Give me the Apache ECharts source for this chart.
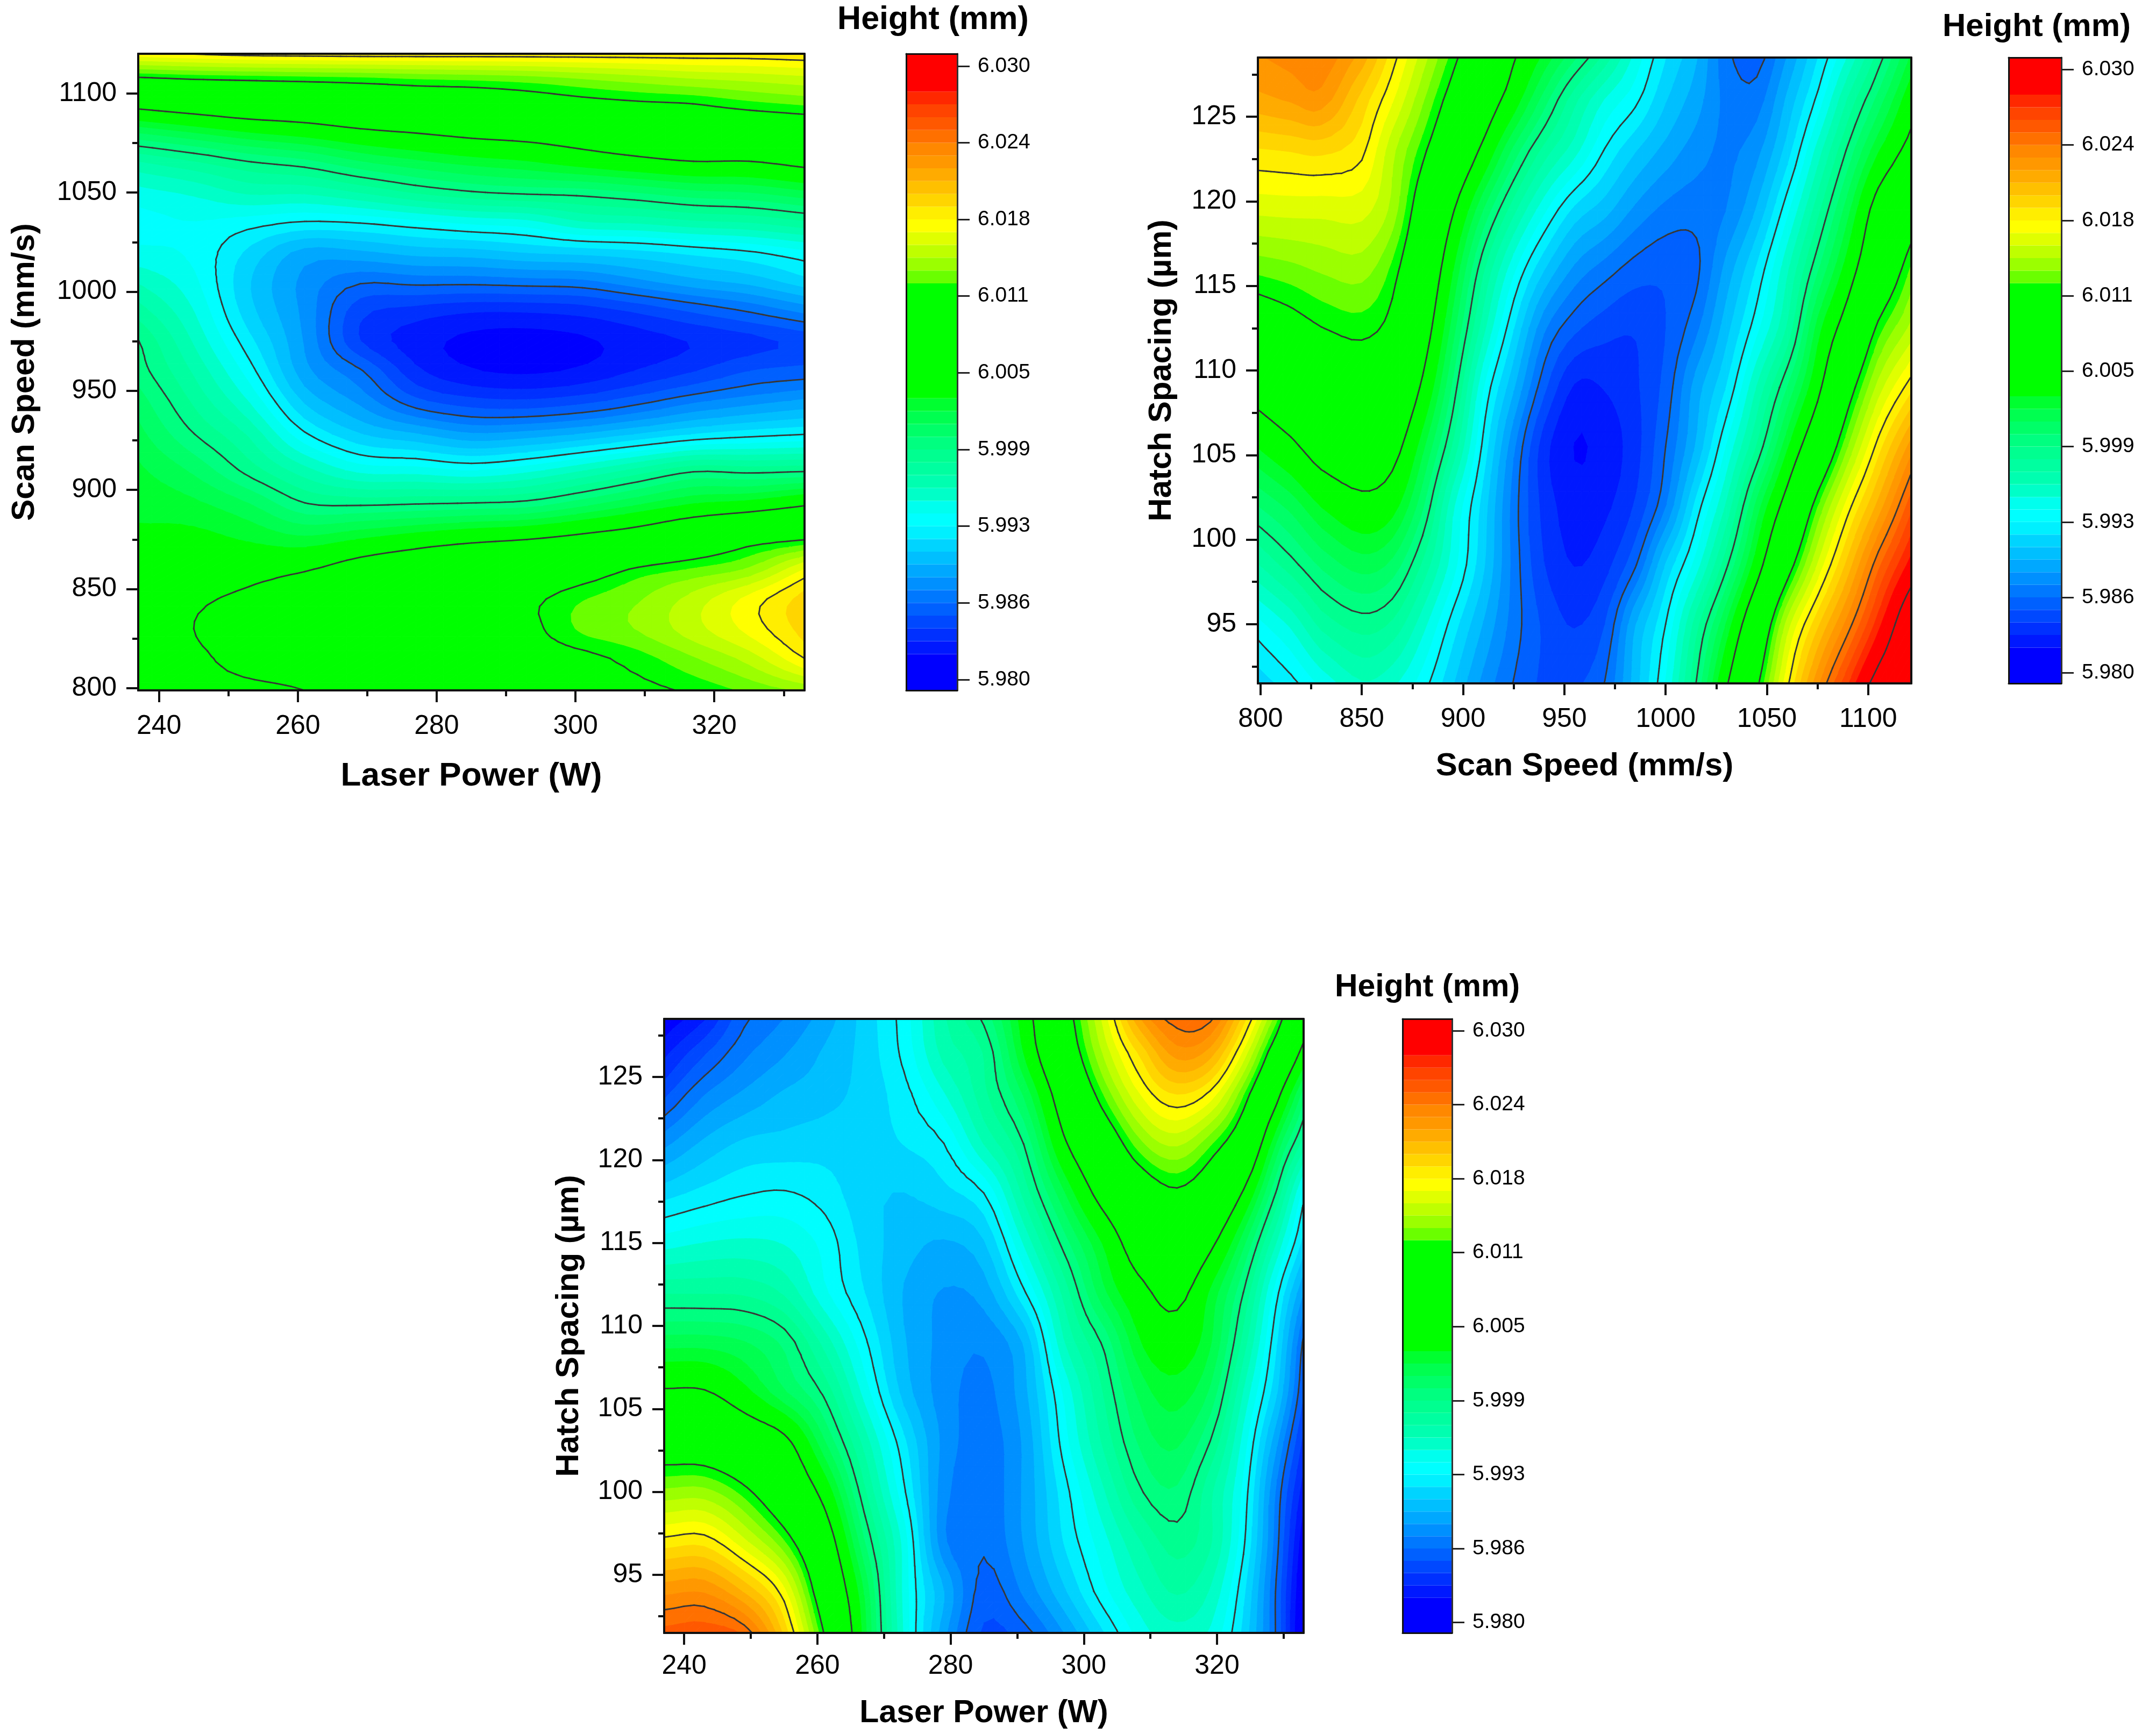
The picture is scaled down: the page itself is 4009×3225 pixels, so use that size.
<!DOCTYPE html>
<html>
<head>
<meta charset="utf-8">
<title>Height contour maps</title>
<style>
  html, body { margin: 0; padding: 0; background: #fff; }
  #chart { width: 4009px; height: 3225px; }
</style>
<script src="https://cdn.jsdelivr.net/npm/echarts@6/dist/echarts.min.js"></script>
</head>
<body>
<div id="chart"></div>
<script>
'use strict'

// values, one list per laser power
const powerLevelsA = [237, 245, 253, 261, 269, 277, 285, 293, 301, 309, 317, 325, 333]
const speedLevelsA = [798.9, 815, 830, 845, 860, 875, 892, 910, 928, 945, 960, 975, 990, 1005, 1020, 1035, 1050, 1065, 1080, 1095, 1108, 1120]
const heightByPowerA = [
  [6.0035, 6.0036, 6.0037, 6.0036, 6.0034, 6.0031, 6.0027, 6.0021, 6.0012, 6.0003, 5.9993, 5.9988, 5.9972, 5.9955, 5.9938, 5.9932, 5.9942, 5.9965, 6.0008, 6.0060, 6.0112, 6.0172],
  [6.0040, 6.0044, 6.0050, 6.0046, 6.0040, 6.0033, 6.0022, 6.0006, 5.9988, 5.9975, 5.9965, 5.9955, 5.9946, 5.9938, 5.9933, 5.9935, 5.9948, 5.9975, 6.0018, 6.0068, 6.0116, 6.0176],
  [6.0042, 6.0062, 6.0072, 6.0056, 6.0042, 6.0028, 6.0010, 5.9983, 5.9965, 5.9945, 5.9930, 5.9918, 5.9908, 5.9905, 5.9912, 5.9930, 5.9958, 5.9986, 6.0028, 6.0075, 6.0118, 6.0180],
  [6.0050, 6.0075, 6.0085, 6.0072, 6.0048, 6.0022, 5.9990, 5.9960, 5.9927, 5.9902, 5.9887, 5.9882, 5.9880, 5.9880, 5.9890, 5.9924, 5.9958, 5.9993, 6.0035, 6.0078, 6.0120, 6.0181],
  [6.0075, 6.0090, 6.0098, 6.0088, 6.0062, 6.0030, 5.9988, 5.9942, 5.9905, 5.9880, 5.9864, 5.9842, 5.9845, 5.9864, 5.9892, 5.9926, 5.9967, 6.0006, 6.0044, 6.0085, 6.0122, 6.0182],
  [6.0085, 6.0095, 6.0102, 6.0095, 6.0072, 6.0038, 5.9990, 5.9940, 5.9895, 5.9855, 5.9834, 5.9826, 5.9837, 5.9866, 5.9898, 5.9932, 5.9978, 6.0015, 6.0050, 6.0090, 6.0125, 6.0182],
  [6.0092, 6.0098, 6.0105, 6.0102, 6.0082, 6.0045, 5.9992, 5.9935, 5.9885, 5.9845, 5.9822, 5.9818, 5.9832, 5.9866, 5.9900, 5.9938, 5.9986, 6.0022, 6.0056, 6.0092, 6.0127, 6.0182],
  [6.0098, 6.0102, 6.0108, 6.0108, 6.0088, 6.0050, 5.9995, 5.9942, 5.9888, 5.9843, 5.9819, 5.9816, 5.9832, 5.9868, 5.9905, 5.9942, 5.9990, 6.0027, 6.0060, 6.0098, 6.0130, 6.0182],
  [6.0105, 6.0108, 6.0125, 6.0122, 6.0098, 6.0058, 6.0007, 5.9955, 5.9895, 5.9848, 5.9823, 5.9819, 5.9835, 5.9870, 5.9908, 5.9955, 5.9992, 6.0035, 6.0067, 6.0105, 6.0135, 6.0182],
  [6.0108, 6.0118, 6.0134, 6.0132, 6.0115, 6.0068, 6.0020, 5.9970, 5.9905, 5.9858, 5.9832, 5.9826, 5.9843, 5.9880, 5.9912, 5.9958, 5.9998, 6.0042, 6.0076, 6.0110, 6.0140, 6.0182],
  [6.0115, 6.0132, 6.0150, 6.0148, 6.0124, 6.0085, 6.0032, 5.9985, 5.9915, 5.9870, 5.9841, 5.9832, 5.9853, 5.9890, 5.9918, 5.9964, 6.0005, 6.0048, 6.0085, 6.0113, 6.0145, 6.0182],
  [6.0125, 6.0148, 6.0168, 6.0168, 6.0135, 6.0103, 6.0038, 5.9983, 5.9921, 5.9878, 5.9852, 5.9838, 5.9863, 5.9897, 5.9924, 5.9967, 6.0008, 6.0048, 6.0085, 6.0120, 6.0148, 6.0182],
  [6.0135, 6.0175, 6.0190, 6.0190, 6.0165, 6.0112, 6.0050, 5.9985, 5.9925, 5.9885, 5.9856, 5.9845, 5.9875, 5.9910, 5.9933, 5.9975, 6.0016, 6.0056, 6.0090, 6.0125, 6.0152, 6.0184]
]

// one list per hatch spacing, bottom row first
const speedLevelsB = [798.7, 815, 830, 850, 865, 880, 895, 910, 925, 940, 955, 970, 985, 1000, 1015, 1030, 1045, 1060, 1075, 1090, 1105, 1121.3]
const hatchLevelsB = [91.5, 95, 98.5, 102, 105.5, 109, 112.5, 116, 119.5, 123, 126, 128.5]
const heightByHatchB = [
  [5.9908, 5.9921, 5.9938, 5.9955, 5.9948, 5.9930, 5.9905, 5.9880, 5.9862, 5.9850, 5.9850, 5.9863, 5.9899, 5.9936, 5.99875, 6.0047, 6.0108, 6.0172, 6.0224, 6.0268, 6.0311, 6.0338],
  [5.9932, 5.9948, 5.9970, 5.9982, 5.9975, 5.9950, 5.9920, 5.9893, 5.9868, 5.9850, 5.9841, 5.9852, 5.9893, 5.9925, 5.9972, 6.0020, 6.0080, 6.0148, 6.0193, 6.0232, 6.0275, 6.0325],
  [5.9966, 5.9983, 6.0000, 6.0013, 6.0005, 5.9975, 5.9940, 5.9906, 5.9869, 5.9842, 5.9831, 5.9838, 5.9861, 5.9905, 5.9940, 5.9985, 6.0038, 6.0100, 6.0155, 6.0200, 6.0245, 6.0285],
  [5.9998, 6.0012, 6.0030, 6.0043, 6.0035, 6.0000, 5.9948, 5.9910, 5.9868, 5.9838, 5.9826, 5.9829, 5.9843, 5.9872, 5.9918, 5.9958, 6.0012, 6.0062, 6.0122, 6.0170, 6.0210, 6.0255],
  [6.0030, 6.0045, 6.0062, 6.0070, 6.0060, 6.0022, 5.9975, 5.9922, 5.9875, 5.9836, 5.98205, 5.9825, 5.98375, 5.98625, 5.9895, 5.9936, 5.9978, 6.0027, 6.0077, 6.0133, 6.0180, 6.0222],
  [6.0062, 6.0075, 6.0085, 6.0094, 6.0083, 6.0046, 5.9995, 5.9936, 5.9895, 5.9855, 5.9830, 5.9832, 5.9840, 5.9856, 5.9888, 5.9915, 5.9957, 5.9998, 6.0043, 6.0100, 6.0148, 6.0182],
  [6.0094, 6.0103, 6.0112, 6.0117, 6.0105, 6.0065, 6.0013, 5.9960, 5.9915, 5.9875, 5.9855, 5.9846, 5.9843, 5.9852, 5.9870, 5.9900, 5.9932, 5.9968, 6.0023, 6.0065, 6.0117, 6.0147],
  [6.0126, 6.0130, 6.0135, 6.0138, 6.0120, 6.0080, 6.0030, 5.9979, 5.9938, 5.9905, 5.9881, 5.9868, 5.9858, 5.9855, 5.9860, 5.9887, 5.9916, 5.9954, 5.9996, 6.0037, 6.0082, 6.0125],
  [6.0157, 6.0158, 6.0158, 6.0158, 6.0140, 6.0096, 6.0052, 6.0008, 5.9970, 5.9938, 5.9912, 5.9898, 5.9881, 5.9870, 5.9867, 5.9873, 5.9895, 5.9932, 5.9973, 6.0015, 6.0062, 6.0095],
  [6.0184, 6.0186, 6.0188, 6.0178, 6.0147, 6.0117, 6.0081, 6.0044, 6.0005, 5.9973, 5.9950, 5.9924, 5.9905, 5.9890, 5.9878, 5.9871, 5.9880, 5.9909, 5.9950, 5.9990, 6.0028, 6.0060],
  [6.0213, 6.0218, 6.0222, 6.0192, 6.0166, 6.0135, 6.0102, 6.0068, 6.0037, 6.0003, 5.9970, 5.9945, 5.9928, 5.9905, 5.9888, 5.9870, 5.9868, 5.9896, 5.9928, 5.9968, 6.0002, 6.0040],
  [6.0226, 6.0231, 6.0234, 6.0212, 6.0180, 6.0149, 6.0118, 6.0085, 6.0052, 6.0026, 6.0000, 5.9973, 5.9942, 5.9915, 5.9895, 5.9866, 5.9858, 5.9884, 5.9914, 5.9947, 5.9982, 6.0021]
]

const powerLevelsC = [237, 243, 249, 255, 261, 267, 273, 279, 285, 291, 297, 303, 309, 314, 319, 324, 329, 333]
const hatchLevelsC = [91.5, 94, 97, 100, 103, 106, 109, 112, 115, 118, 121, 124, 126.5, 128.5]
const heightByHatchC = [
  [6.0252, 6.0255, 6.0245, 6.0193, 6.0112, 6.0024, 5.9944, 5.9887, 5.9850, 5.9858, 5.9883, 5.9914, 5.9942, 5.9952, 5.9944, 5.9911, 5.9860, 5.9800],
  [6.0224, 6.0226, 6.0205, 6.0168, 6.0091, 6.0018, 5.9942, 5.9894, 5.9858, 5.9875, 5.9902, 5.9932, 5.9955, 5.9968, 5.9955, 5.9917, 5.9860, 5.9805],
  [6.0179, 6.0181, 6.0157, 6.0124, 6.0069, 5.9999, 5.9941, 5.9875, 5.9864, 5.9884, 5.9915, 5.9942, 5.9968, 5.9982, 5.9968, 5.9927, 5.9866, 5.9812],
  [6.0136, 6.0137, 6.0118, 6.0085, 6.0041, 5.9980, 5.9927, 5.9877, 5.9866, 5.9885, 5.9920, 5.9955, 5.9988, 5.9996, 5.9969, 5.9932, 5.9870, 5.9825],
  [6.0093, 6.0091, 6.0076, 6.0057, 6.0010, 5.9963, 5.9917, 5.9880, 5.9868, 5.9885, 5.9930, 5.9969, 6.0002, 6.0010, 5.9987, 5.9941, 5.9885, 5.9838],
  [6.0053, 6.0052, 6.0034, 6.0010, 5.9985, 5.9942, 5.9900, 5.9878, 5.9870, 5.9890, 5.9937, 5.9978, 6.0014, 6.0024, 6.0006, 5.9955, 5.9905, 5.9852],
  [6.0014, 6.0014, 6.0009, 5.9995, 5.9963, 5.9928, 5.9895, 5.9880, 5.9875, 5.9895, 5.9955, 5.9990, 6.0031, 6.0039, 6.0020, 5.9972, 5.9915, 5.9860],
  [5.9976, 5.9976, 5.9975, 5.9965, 5.9938, 5.9915, 5.9893, 5.98825, 5.9888, 5.9923, 5.9970, 6.0016, 6.0045, 6.0057, 6.0027, 5.9987, 5.9928, 5.9883],
  [5.9941, 5.9946, 5.9948, 5.9945, 5.9932, 5.9911, 5.9899, 5.98925, 5.9903, 5.9947, 5.9992, 6.0031, 6.0070, 6.0083, 6.0056, 6.0011, 5.9955, 5.9910],
  [5.9910, 5.9918, 5.9924, 5.9926, 5.9920, 5.9908, 5.9904, 5.9911, 5.9925, 5.9970, 6.0017, 6.0062, 6.0095, 6.0109, 6.0090, 6.0047, 5.9985, 5.9930],
  [5.9880, 5.9896, 5.9906, 5.9908, 5.9910, 5.9910, 5.9915, 5.9925, 5.9957, 5.9988, 6.0046, 6.0090, 6.0133, 6.0146, 6.0125, 6.0088, 6.0017, 5.9972],
  [5.9849, 5.9872, 5.9885, 5.9895, 5.9900, 5.9908, 5.9921, 5.9945, 5.9974, 6.0010, 6.0068, 6.0124, 6.0168, 6.0186, 6.0172, 6.0124, 6.0058, 6.0003],
  [5.9828, 5.9850, 5.9870, 5.9882, 5.9895, 5.9908, 5.9928, 5.9960, 5.9978, 6.0030, 6.0089, 6.0146, 6.0192, 6.0222, 6.0212, 6.0162, 6.0095, 6.0042],
  [5.9812, 5.9830, 5.9860, 5.9873, 5.9888, 5.9908, 5.9930, 5.9965, 5.9990, 6.0037, 6.0098, 6.0158, 6.0220, 6.0243, 6.0240, 6.0190, 6.0125, 6.0065]
]

// colour scale of the bars
const bandEdges = [5.97, 5.98208, 5.98313, 5.98417, 5.98521, 5.98625, 5.98729, 5.98833, 5.98938, 5.99042, 5.99146, 5.9925, 5.99354, 5.99458, 5.99563, 5.99667, 5.99771, 5.99875, 5.99979, 6.00083, 6.00188, 6.00292, 6.01229, 6.01333, 6.01438, 6.01542, 6.01646, 6.0175, 6.01854, 6.01958, 6.02063, 6.02167, 6.02271, 6.02375, 6.02479, 6.02583, 6.02688, 6.02792, 6.04]
const bandColors = ['#0000ff', '#0018ff', '#0030ff', '#0048ff', '#0060ff', '#0078ff', '#0090ff', '#00a8ff', '#00bfff', '#00d4ff', '#00f0ff', '#00ffff', '#00ffee', '#00ffc8', '#00ffb0', '#00ffa0', '#00ff90', '#00ff80', '#00ff68', '#00ff50', '#00ff30', '#00ff00', '#6aff00', '#9bff00', '#bfff00', '#e0ff00', '#ffff00', '#ffee00', '#ffd500', '#ffc000', '#ffab00', '#ff9800', '#ff8800', '#ff7000', '#ff5800', '#ff4400', '#ff2800', '#ff0000']
const contourLevels = [5.98625, 5.9925, 5.99875, 6.005, 6.01125, 6.0175, 6.02375, 6.03]
const colorTicks = [5.98, 5.98625, 5.9925, 5.99875, 6.005, 6.01125, 6.0175, 6.02375, 6.03]
const colorTickLabels = ['5.980', '5.986', '5.993', '5.999', '6.005', '6.011', '6.018', '6.024', '6.030']
const colorBarMin = 5.97912
const colorBarMax = 6.031

const powerTicks = [240, 260, 280, 300, 320]
const powerMinorTicks = [250, 270, 290, 310, 330]
const speedTicks = [800, 850, 900, 950, 1000, 1050, 1100]
const speedMinorTicks = [825, 875, 925, 975, 1025, 1075]
const hatchTicks = [95, 100, 105, 110, 115, 120, 125]
const hatchMinorTicks = [92.5, 97.5, 102.5, 107.5, 112.5, 117.5, 122.5, 127.5]

const FONT = '"Liberation Sans", Arial, sans-serif'
const LINE_COLOR = '#111'
const CONTOUR_COLOR = '#383838'
const CELL_STEPS = 4

function transpose (columns) {
  return columns[0].map((_, j) => columns.map(col => col[j]))
}

function buildCells (xs, ys, rows) {
  const cells = []
  for (let j = 0; j < ys.length - 1; j++) {
    for (let i = 0; i < xs.length - 1; i++) {
      cells.push([xs[i], xs[i + 1], ys[j], ys[j + 1], rows[j][i], rows[j][i + 1], rows[j + 1][i], rows[j + 1][i + 1]])
    }
  }
  return cells
}

function catmullRom (a, b, c, d, t) {
  return b + 0.5 * t * (c - a + t * (2 * a - 5 * b + 4 * c - d + t * (3 * (b - c) + d - a)))
}

// smooth surface through the read values, only used when a cell is drawn
function makeSurface (xs, ys, rows) {
  const rowAt = (j, i) => {
    if (j < 0) return 2 * rows[0][i] - rows[1][i]
    if (j >= ys.length) return 2 * rows[ys.length - 1][i] - rows[ys.length - 2][i]
    return rows[j][i]
  }
  const column = (i, j, v) => catmullRom(rowAt(j - 1, i), rowAt(j, i), rowAt(j + 1, i), rowAt(j + 2, i), v)
  const heightAt = (i, j, u, v) => {
    const b = column(i, j, v)
    const c = column(i + 1, j, v)
    const a = i > 0 ? column(i - 1, j, v) : 2 * b - c
    const d = i + 2 < xs.length ? column(i + 2, j, v) : 2 * c - b
    return catmullRom(a, b, c, d, u)
  }
  const cache = {}
  return function triangles (cellIndex) {
    if (cache[cellIndex]) return cache[cellIndex]
    const i = cellIndex % (xs.length - 1)
    const j = Math.floor(cellIndex / (xs.length - 1))
    const grid = []
    for (let b = 0; b <= CELL_STEPS; b++) {
      const row = []
      const v = b / CELL_STEPS
      for (let a = 0; a <= CELL_STEPS; a++) {
        const u = a / CELL_STEPS
        row.push([xs[i] + (xs[i + 1] - xs[i]) * u, ys[j] + (ys[j + 1] - ys[j]) * v, heightAt(i, j, u, v)])
      }
      grid.push(row)
    }
    const list = []
    for (let b = 0; b < CELL_STEPS; b++) {
      for (let a = 0; a < CELL_STEPS; a++) {
        list.push([grid[b][a], grid[b][a + 1], grid[b + 1][a + 1]], [grid[b][a], grid[b + 1][a + 1], grid[b + 1][a]])
      }
    }
    cache[cellIndex] = list
    return list
  }
}

function crossing (p, q, level) {
  const t = (level - p[2]) / (q[2] - p[2])
  return [p[0] + (q[0] - p[0]) * t, p[1] + (q[1] - p[1]) * t, level]
}

// keeps the part of a polygon on one side of a height level
function cutPolygon (points, level, keepAbove) {
  const out = []
  points.forEach((p, i) => {
    const q = points[(i + 1) % points.length]
    const pIn = keepAbove ? p[2] >= level : p[2] <= level
    const qIn = keepAbove ? q[2] >= level : q[2] <= level
    if (pIn) out.push(p)
    if (pIn !== qIn) out.push(crossing(p, q, level))
  })
  return out
}

function bandRenderer (triangles) {
  return function (params, api) {
    const children = []
    triangles(params.dataIndex).forEach(tri => {
      const low = Math.min(tri[0][2], tri[1][2], tri[2][2])
      const high = Math.max(tri[0][2], tri[1][2], tri[2][2])
      bandColors.forEach((color, k) => {
        if (bandEdges[k + 1] < low || bandEdges[k] > high) return
        let poly = cutPolygon(tri, bandEdges[k], true)
        if (poly.length > 2) poly = cutPolygon(poly, bandEdges[k + 1], false)
        if (poly.length < 3) return
        children.push({
          type: 'polygon',
          shape: { points: poly.map(p => api.coord([p[0], p[1]])) },
          style: { fill: color, stroke: color, lineWidth: 1 }
        })
      })
    })
    return { type: 'group', children }
  }
}

function contourRenderer (triangles) {
  return function (params, api) {
    const children = []
    triangles(params.dataIndex).forEach(tri => {
      contourLevels.forEach(level => {
        const hits = []
        tri.forEach((p, i) => {
          const q = tri[(i + 1) % 3]
          if ((p[2] >= level) !== (q[2] >= level)) hits.push(crossing(p, q, level))
        })
        if (hits.length !== 2) return
        const s = api.coord([hits[0][0], hits[0][1]])
        const e = api.coord([hits[1][0], hits[1][1]])
        children.push({
          type: 'line',
          shape: { x1: s[0], y1: s[1], x2: e[0], y2: e[1] },
          style: { stroke: CONTOUR_COLOR, lineWidth: 2.8, lineCap: 'round' }
        })
      })
    })
    return { type: 'group', children }
  }
}

function renderColorBand (params, api) {
  const low = api.coord([0, api.value(0)])
  const high = api.coord([1, api.value(1)])
  return {
    type: 'rect',
    shape: { x: low[0], y: high[1], width: high[0] - low[0], height: low[1] - high[1] },
    style: { fill: bandColors[params.dataIndex] }
  }
}

const option = {
  animation: false,
  backgroundColor: '#fff',
  textStyle: { fontFamily: FONT },
  title: [],
  grid: [],
  xAxis: [],
  yAxis: [],
  series: []
}

function lineOnlyAxis (gridIndex, position, min, max, lineWidth) {
  return {
    type: 'value',
    gridIndex,
    position,
    min,
    max,
    z: 5,
    axisLine: { show: true, onZero: false, lineStyle: { color: LINE_COLOR, width: lineWidth } },
    axisTick: { show: false },
    axisLabel: { show: false },
    splitLine: { show: false }
  }
}

function tickedAxis (gridIndex, position, min, max, ticks, conf) {
  return {
    type: 'value',
    gridIndex,
    position,
    min,
    max,
    z: 5,
    name: conf.name,
    nameLocation: 'middle',
    nameGap: conf.nameGap,
    nameRotate: conf.nameRotate,
    nameTextStyle: { fontFamily: FONT, fontWeight: 'bold', fontSize: conf.nameSize || 60, color: '#000' },
    axisLine: { show: true, onZero: false, lineStyle: { color: LINE_COLOR, width: 4 } },
    axisTick: { show: true, customValues: ticks, length: conf.tickLength, lineStyle: { color: LINE_COLOR, width: 4 } },
    axisLabel: {
      show: conf.labels !== false,
      customValues: ticks,
      margin: conf.margin,
      fontFamily: FONT,
      fontSize: 50,
      color: '#000',
      formatter: value => String(value)
    },
    splitLine: { show: false }
  }
}

function addPlot (conf) {
  const rect = { left: conf.left, top: conf.top, width: conf.width, height: conf.height }
  const base = option.grid.length

  // main axes + data, then a twin grid for minor ticks, then the top/right frame
  option.grid.push(rect, rect, rect)
  const axisIndex = option.xAxis.length
  option.xAxis.push(
    tickedAxis(base, 'bottom', conf.xMin, conf.xMax, conf.xTicks, { name: conf.xName, nameGap: conf.xNameGap, nameSize: conf.xNameSize, tickLength: 22, margin: conf.xLabelMargin }),
    tickedAxis(base + 1, 'bottom', conf.xMin, conf.xMax, conf.xMinor, { tickLength: 11, labels: false }),
    lineOnlyAxis(base + 2, 'top', conf.xMin, conf.xMax, 4)
  )
  option.yAxis.push(
    tickedAxis(base, 'left', conf.yMin, conf.yMax, conf.yTicks, { name: conf.yName, nameGap: conf.yNameGap, nameRotate: 90, tickLength: 22, margin: 40 }),
    tickedAxis(base + 1, 'left', conf.yMin, conf.yMax, conf.yMinor, { tickLength: 11, labels: false }),
    lineOnlyAxis(base + 2, 'right', conf.yMin, conf.yMax, 4)
  )

  const cells = buildCells(conf.xs, conf.ys, conf.rows)
  const triangles = makeSurface(conf.xs, conf.ys, conf.rows)
  option.series.push(
    { type: 'custom', xAxisIndex: axisIndex, yAxisIndex: axisIndex, renderItem: bandRenderer(triangles), data: cells, clip: true, silent: true, z: 2 },
    { type: 'custom', xAxisIndex: axisIndex, yAxisIndex: axisIndex, renderItem: contourRenderer(triangles), data: cells, clip: true, silent: true, z: 3 }
  )

  // colour bar
  const barIndex = option.grid.length
  option.grid.push({ left: conf.barLeft, top: conf.top, width: conf.barWidth, height: conf.height })
  option.xAxis.push(
    lineOnlyAxis(barIndex, 'bottom', 0, 1, 3),
    lineOnlyAxis(barIndex, 'top', 0, 1, 3)
  )
  option.yAxis.push(
    {
      type: 'value',
      gridIndex: barIndex,
      position: 'right',
      min: colorBarMin,
      max: colorBarMax,
      z: 5,
      axisLine: { show: true, onZero: false, lineStyle: { color: '#333', width: 3 } },
      axisTick: { show: true, customValues: colorTicks, length: 23, lineStyle: { color: '#222', width: 3 } },
      axisLabel: {
        customValues: colorTicks,
        margin: 38,
        fontFamily: FONT,
        fontSize: 39,
        color: '#000',
        formatter: value => colorTickLabels[colorTicks.indexOf(value)]
      },
      splitLine: { show: false }
    },
    lineOnlyAxis(barIndex, 'left', colorBarMin, colorBarMax, 3)
  )
  option.series.push({
    type: 'custom',
    xAxisIndex: option.xAxis.length - 2,
    yAxisIndex: option.yAxis.length - 2,
    renderItem: renderColorBand,
    data: bandColors.map((_, k) => [bandEdges[k], bandEdges[k + 1]]),
    clip: true,
    silent: true,
    z: 2
  })

  option.title.push({
    text: 'Height (mm)',
    left: conf.titleX,
    top: conf.titleTop,
    textAlign: 'center',
    textStyle: { fontFamily: FONT, fontWeight: 'bold', fontSize: conf.titleSize, color: '#000' }
  })
}

addPlot({
  left: 257, top: 100, width: 1239, height: 1184,
  barLeft: 1685, barWidth: 95, titleX: 1730, titleTop: 2, titleSize: 61,
  xs: powerLevelsA, ys: speedLevelsA, rows: transpose(heightByPowerA),
  xMin: 237, xMax: 333, yMin: 798.9, yMax: 1120,
  xTicks: powerTicks, xMinor: powerMinorTicks, yTicks: speedTicks, yMinor: speedMinorTicks,
  xLabelMargin: 42,
  xName: 'Laser Power (W)', xNameGap: 129, xNameSize: 62, yName: 'Scan Speed (mm/s)', yNameGap: 181
})

addPlot({
  left: 2339, top: 107, width: 1215, height: 1164,
  barLeft: 3735, barWidth: 98, titleX: 3782, titleTop: 15, titleSize: 60,
  xs: speedLevelsB, ys: hatchLevelsB, rows: heightByHatchB,
  xMin: 798.7, xMax: 1121.3, yMin: 91.5, yMax: 128.5,
  xTicks: speedTicks, xMinor: speedMinorTicks, yTicks: hatchTicks, yMinor: hatchMinorTicks,
  xLabelMargin: 42,
  xName: 'Scan Speed (mm/s)', xNameGap: 124, yName: 'Hatch Spacing (µm)', yNameGap: 149
})

addPlot({
  left: 1235, top: 1895, width: 1189, height: 1142,
  barLeft: 2608, barWidth: 92, titleX: 2649, titleTop: 1802, titleSize: 59,
  xs: powerLevelsC, ys: hatchLevelsC, rows: heightByHatchC,
  xMin: 237, xMax: 333, yMin: 91.5, yMax: 128.5,
  xTicks: powerTicks, xMinor: powerMinorTicks, yTicks: hatchTicks, yMinor: hatchMinorTicks,
  xLabelMargin: 37,
  xName: 'Laser Power (W)', xNameGap: 120, xNameSize: 59, yName: 'Hatch Spacing (µm)', yNameGap: 147
})

const chart = echarts.init(document.getElementById('chart'), null, { renderer: 'canvas' })
chart.setOption(option)
</script>
</body>
</html>
